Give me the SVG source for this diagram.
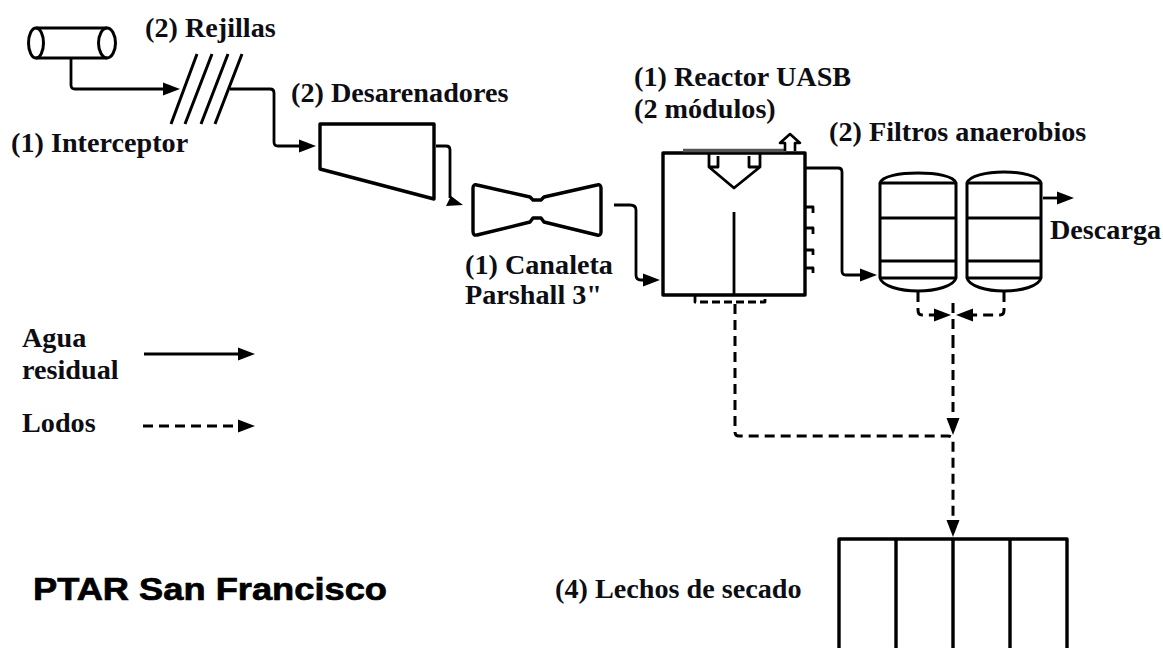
<svg xmlns="http://www.w3.org/2000/svg" width="1163" height="648" viewBox="0 0 1163 648">
<style>
text{font-family:"Liberation Serif","Times New Roman",serif;font-weight:bold;font-size:28.2px;fill:#0d0d14}
.s{fill:none;stroke:#000;stroke-width:3;stroke-linejoin:round}
.t{fill:none;stroke:#000;stroke-width:3.4;stroke-linejoin:round}
.c{fill:none;stroke:#000;stroke-width:2.8;stroke-linejoin:round}
.d{fill:none;stroke:#000;stroke-width:3;stroke-dasharray:10 6}
.h{fill:#000}
</style>
<defs>
<path id="a" d="M-17-6.5 L0 0 L-17 6.5Z"/>
</defs>
<rect width="1163" height="648" fill="#fff"/>
<g id="connectors">
<path class="c" d="M71 58V85Q71 89 75 89H170"/>
<path class="c" d="M230 89H270Q274 89 274 93V142Q274 146 278 146H310"/>
<path class="c" d="M436 146H446Q450 146 450 150V198"/>
<path class="c" d="M614 205H630Q636 205 636 210V275Q636 280 641 280H650"/>
<path class="c" d="M806 168H838Q842 168 842 172V271Q842 275 846 275H866"/>
<path class="c" d="M1043 198H1064"/>
<path class="c" d="M144 354H245" stroke-width="3.2"/>
<path class="d" d="M143 426H240"/>
<path class="d" d="M735 304V432Q735 436 739 436H948Q953 436 953 441V522"/>
<path class="d" d="M953 338V424"/>
<path class="d" d="M918 292V310Q918 315 922 315H944"/>
<path class="d" d="M1004 292V310Q1004 315 1000 315H964"/>
<path class="d" d="M953 303V338"/>
<g class="h">
<use href="#a" transform="translate(180 89)"/>
<use href="#a" transform="translate(316 146)"/>
<path d="M446 206 L451 196 L463 205Z"/>
<use href="#a" transform="translate(660 280)"/>
<use href="#a" transform="translate(877 275)"/>
<use href="#a" transform="translate(1074 198)"/>
<use href="#a" transform="translate(255 354)"/>
<use href="#a" transform="translate(255 426)"/>
<use href="#a" transform="translate(951 315)"/>
<use href="#a" transform="translate(956 315) rotate(180)"/>
<use href="#a" transform="translate(953 435) rotate(90)"/>
<use href="#a" transform="translate(953 537) rotate(90)"/>
</g>
</g>
<g id="interceptor">
<path class="s" d="M36 28H107M36 58H107"/>
<ellipse class="s" cx="36" cy="43" rx="7.5" ry="15"/>
<ellipse class="s" cx="107" cy="43" rx="8.5" ry="15"/>
<text x="11" y="152">(1) Interceptor</text>
</g>
<g id="rejillas">
<path class="s" d="M197 54L171 124M212 54L185 124M228 54L201 124M242 54L215 124"/>
<text x="145" y="37">(2) Rejillas</text>
</g>
<g id="desarenadores">
<path class="t" d="M320 124H434V199L320 169Z"/>
<text x="291" y="102">(2) Desarenadores</text>
</g>
<g id="parshall">
<path class="t" d="M477 185Q473 184 473 188V231Q473 236 477 235L530 222L533 218H541L544 222L597 235Q601 236 601 232V188Q601 184 597 185L544 197L541 200H533L530 197Z"/>
<text x="465" y="274">(1) Canaleta</text>
<text x="465" y="304">Parshall 3"</text>
</g>
<g id="reactor">
<rect x="663" y="153" width="142" height="142" class="t"/>
<path fill="none" stroke="#555" stroke-width="3.4" d="M683 150.500H786"/>
<path class="c" d="M709 153V167L734 188L760 167V153M709 167H718V156M760 167H749V156"/>
<path class="c" d="M734 212V295"/>
<path class="c" d="M805 207H813V213M805 228H813V234M805 250H813V255M805 268H813V273"/>
<path class="c" d="M695 295V302H765V295" stroke-dasharray="8 4"/>
<path fill="#fff" stroke="#000" stroke-width="2.6" stroke-linejoin="round" d="M785 151V143H780L790 134L800 143H795V151"/>
<text x="634" y="86">(1) Reactor UASB</text>
<text x="634" y="118">(2 módulos)</text>
</g>
<g id="filtros">
<path class="s" d="M880 183C882 176 900 173 918 173S954 176 956 183V278C954 286 936 291 918 291S882 286 880 278Z"/>
<path class="s" d="M880 183H956M880 218H956M880 261H956M880 278H956"/>
<path class="s" d="M967 183C969 176 986 172 1004 172S1039 176 1041 183V278C1039 286 1022 291 1004 291S969 286 967 278Z"/>
<path class="s" d="M967 183H1041M967 218H1041M967 261H1041M967 278H1041"/>
<text x="829" y="141">(2) Filtros anaerobios</text>
</g>
<text id="descarga" x="1050" y="239">Descarga</text>
<g id="legend">
<text x="22" y="347">Agua</text>
<text x="22" y="379">residual</text>
<text x="22" y="432">Lodos</text>
</g>
<text id="title" x="33" y="600" textLength="354" lengthAdjust="spacingAndGlyphs" style="font-family:'Liberation Sans',Arial,sans-serif;font-size:32px;fill:#000;stroke:#000;stroke-width:.7">PTAR San Francisco</text>
<g id="lechos">
<path class="t" d="M839 648V539H1067V648M896 539V648M953 539V648M1010 539V648"/>
<text x="555" y="598">(4) Lechos de secado</text>
</g>
</svg>
